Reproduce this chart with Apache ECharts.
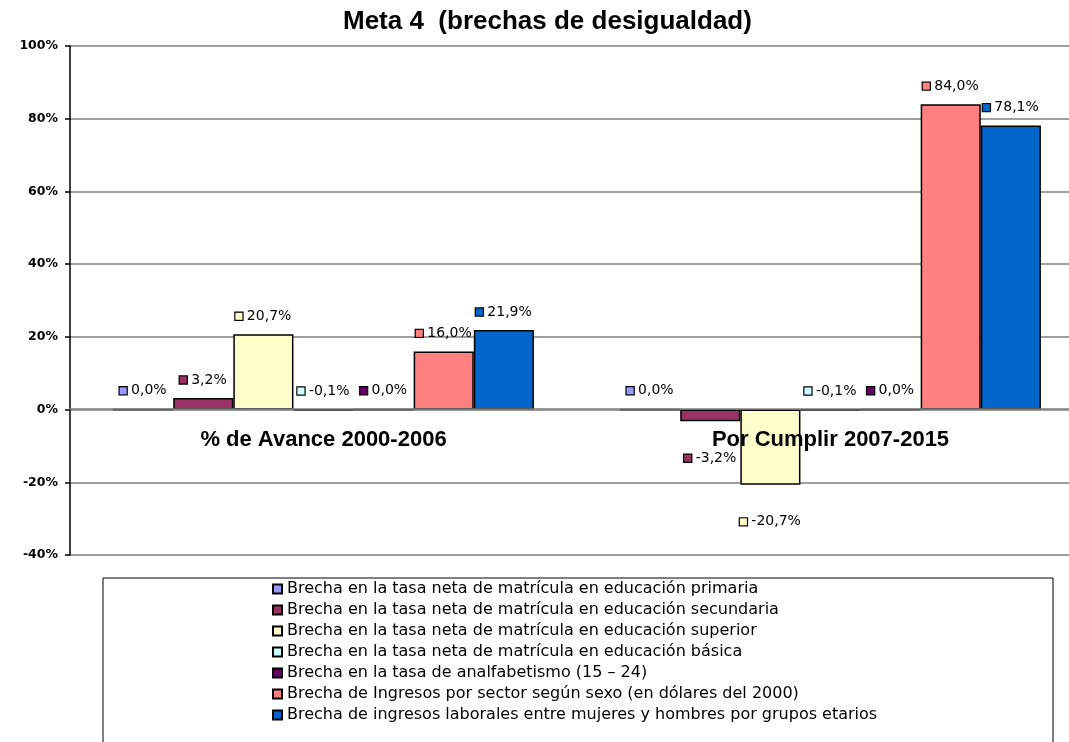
<!DOCTYPE html>
<html>
<head>
<meta charset="utf-8">
<script src="https://cdn.jsdelivr.net/npm/echarts@6/dist/echarts.min.js"></script>
<style>
  html, body { margin: 0; padding: 0; background: #fff; }
  #chart { width: 1069px; height: 742px; }
</style>
</head>
<body>
<div id="chart"></div>
<script>
// categories and series values (in %)
var categories = ["% de Avance 2000-2006", "Por Cumplir 2007-2015"];
var seriesNames = [
  "Brecha en la tasa neta de matrícula en educación primaria",
  "Brecha en la tasa neta de matrícula en educación secundaria",
  "Brecha en la tasa neta de matrícula en educación superior",
  "Brecha en la tasa neta de matrícula en educación básica",
  "Brecha en la tasa de analfabetismo (15 – 24)",
  "Brecha de Ingresos por sector según sexo (en dólares del 2000)",
  "Brecha de ingresos laborales entre mujeres y hombres por grupos etarios"
];
var primaria = [0.0, 0.0];
var secundaria = [3.2, -3.2];
var superior = [20.7, -20.7];
var basica = [-0.1, -0.1];
var analfabetismo = [0.0, 0.0];
var ingresosSector = [16.0, 84.0];
var ingresosLaborales = [21.9, 78.1];
var yTicks = [-40, -20, 0, 20, 40, 60, 80, 100];

var seriesValues = [primaria, secundaria, superior, basica, analfabetismo, ingresosSector, ingresosLaborales];
var colors = ["#9999FF", "#993366", "#FFFFCC", "#CCFFFF", "#660066", "#FF8080", "#0066CC"];

var chart = echarts.init(document.getElementById("chart"));

function fmt(v) {
  return v.toFixed(1).replace(".", ",") + "%";
}

var series = seriesValues.map(function (vals, i) {
  return {
    name: seriesNames[i],
    type: "bar",
    barGap: "0%",
    barCategoryGap: "17%",
    itemStyle: { color: colors[i], borderColor: "#000", borderWidth: 1.5 },
    data: vals.map(function (v) {
      return {
        value: v,
        label: v < -1 ? { position: "bottom", distance: 30 } : { position: "top", distance: 11 }
      };
    }),
    label: {
      show: true,
      formatter: function (p) {
        return "{sq|}{v| " + fmt(p.value) + "}";
      },
      rich: {
        sq: {
          width: 7, height: 7,
          backgroundColor: colors[i],
          borderColor: "#000", borderWidth: 1.2
        },
        v: {
          fontFamily: "DejaVu Sans", fontSize: 14, color: "#000"
        }
      }
    }
  };
});

var option = {
  animation: false,
  backgroundColor: "#fff",
  title: {
    text: "Meta 4  (brechas de desigualdad)",
    left: 338,
    top: 4,
    textStyle: { fontFamily: "Liberation Sans, Arial", fontWeight: "bold", fontSize: 26, color: "#000" }
  },
  grid: { left: 70, top: 46, width: 1014, height: 509, containLabel: false, outerBoundsMode: "none" },
  legend: {
    orient: "vertical",
    left: 267,
    top: 576,
    itemWidth: 9,
    itemHeight: 9,
    itemGap: 5,
    icon: "rect",
    textStyle: { fontFamily: "DejaVu Sans", fontSize: 16, color: "#000" },
    data: seriesNames
  },
  graphic: [{
    type: "rect",
    shape: { x: 103, y: 578, width: 950, height: 200 },
    style: { fill: "none", stroke: "#000", lineWidth: 1 },
    z: -1
  }],
  xAxis: {
    type: "category",
    data: categories,
    z: 10,
    offset: -146,
    axisLine: { onZero: false, lineStyle: { color: "#808080", width: 1.5 } },
    axisTick: { show: false },
    axisLabel: {
      margin: 20,
      fontFamily: "Liberation Sans, Arial", fontWeight: "bold", fontSize: 22, color: "#000"
    }
  },
  yAxis: {
    type: "value",
    min: yTicks[0],
    max: yTicks[yTicks.length - 1],
    interval: 20,
    axisLine: { show: true, lineStyle: { color: "#000", width: 1.5 } },
    axisTick: { show: true, length: 5, lineStyle: { color: "#000", width: 1.5 } },
    splitLine: { lineStyle: { color: "#808080", width: 1.5 } },
    axisLabel: {
      margin: 12,
      formatter: "{value}%",
      fontFamily: "DejaVu Sans", fontWeight: "bold", fontSize: 12.5, color: "#000"
    }
  },
  series: series
};

chart.setOption(option);
</script>
</body>
</html>
